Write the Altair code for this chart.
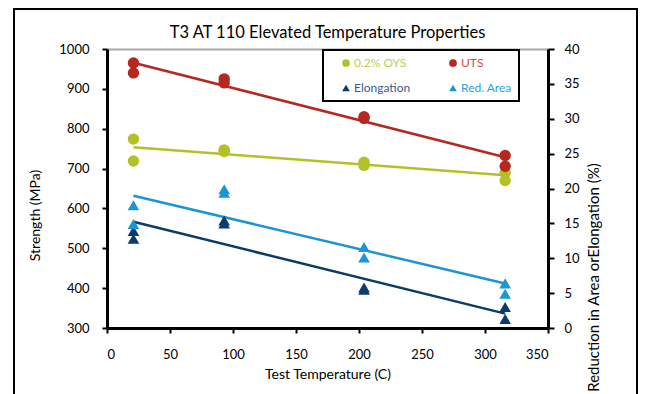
import altair as alt
import pandas as pd

# ---- data ----
temps = [21, 21, 93, 93, 204, 204, 316, 316]
oys = [774, 719, 747, 743, 716, 708, 690, 670]
uts = [965, 940, 925, 915, 830, 826, 733, 706]
elongation = [13.9, 12.8, 15.4, 15.0, 5.8, 5.5, 3.0, 1.3]
red_area = [17.6, 14.9, 19.9, 19.4, 11.6, 10.1, 6.4, 4.9]

series_names = ["0.2% OYS", "UTS", "Elongation", "Red. Area"]
series_colors = ["#B3C126", "#B5271F", "#0B3A6C", "#1A96D4"]
label_colors = ["#C3CC4E", "#D2493F", "#3A5A8A", "#2BA3DC"]
series_shapes = ["circle", "circle", "triangle-up", "triangle-up"]

x_ticks = [0, 50, 100, 150, 200, 250, 300, 350]
left_ticks = [300, 400, 500, 600, 700, 800, 900, 1000]
right_ticks = [0, 5, 10, 15, 20, 25, 30, 35, 40]

strength = pd.DataFrame({
    "temp": temps * 2,
    "value": oys + uts,
    "series": ["0.2% OYS"] * len(temps) + ["UTS"] * len(temps),
})
percent = pd.DataFrame({
    "temp": temps * 2,
    "value": elongation + red_area,
    "series": ["Elongation"] * len(temps) + ["Red. Area"] * len(temps),
})

FONT = "Lato"

color_scale = alt.Scale(domain=series_names, range=series_colors)
shape_scale = alt.Scale(domain=series_names, range=series_shapes)

label_color_expr = " : ".join(
    [f"datum.label == '{n}' ? '{c}'" for n, c in zip(series_names, label_colors)]
) + " : 'black'"

NBSP = "\u00a0" * 8

legend = alt.Legend(
    title=None,
    orient="none",
    legendX=216,
    legendY=1,
    columns=2,
    direction="horizontal",
    strokeColor="black",
    fillColor="white",
    padding=7,
    columnPadding=26,
    rowPadding=13,
    symbolSize=60,
    symbolOffset=10,
    labelFont=FONT,
    labelFontSize=12,
    labelOffset=2,
    labelExpr="(datum.label == 'UTS' || datum.label == 'Red. Area') ? datum.label + '" + NBSP + "' : datum.label",
    labelColor={"expr": label_color_expr},
)

x_enc = alt.X(
    "temp:Q",
    scale=alt.Scale(domain=[0, 350], nice=False),
    axis=alt.Axis(
        values=x_ticks,
        title="Test Temperature (C)",
        labelPadding=15,
        titlePadding=6,
        grid=False,
    ),
)

y_left = alt.Y(
    "value:Q",
    scale=alt.Scale(domain=[300, 1000], nice=False, zero=False),
    axis=alt.Axis(
        orient="left",
        values=left_ticks,
        format="d",
        title="Strength (MPa)",
        labelPadding=13,
        grid=True,
        gridColor="#A6A6A6",
        gridWidth=2,
        gridOpacity={"condition": {"test": "datum.value == 1000", "value": 1}, "value": 0},
        titleX=-72,
        titleY=166,
        titleAlign="center",
        titleBaseline="middle",
    ),
)

y_right = alt.Y(
    "value:Q",
    scale=alt.Scale(domain=[0, 40], nice=False),
    axis=alt.Axis(
        orient="right",
        values=right_ticks,
        title="Reduction in Area orElongation (%)",
        labelPadding=10,
        tickSize=6,
        grid=False,
        titleAngle=270,
        titleX=45,
        titleY=228,
        titleAlign="center",
        titleBaseline="middle",
        titleFontSize=15,
    ),
)


def trend_lines(df, y_enc, names):
    layers = []
    for name in names:
        col = series_colors[series_names.index(name)]
        layers.append(
            alt.Chart(df).transform_filter(alt.datum.series == name)
            .transform_regression("temp", "value")
            .mark_line(strokeWidth=2.5, color=col)
            .encode(x=x_enc, y=y_enc)
        )
    return layers


left_points = alt.Chart(strength).mark_point(filled=True, opacity=1, size=130).encode(
    x=x_enc, y=y_left,
    color=alt.Color("series:N", scale=color_scale, legend=legend),
    shape=alt.Shape("series:N", scale=shape_scale, legend=legend),
)
right_points = alt.Chart(percent).mark_point(filled=True, opacity=1, size=135).encode(
    x=x_enc, y=y_right,
    color=alt.Color("series:N", scale=color_scale, legend=legend),
    shape=alt.Shape("series:N", scale=shape_scale, legend=legend),
)

# outer chart-area frame (decoration)
frame = alt.Chart(pd.DataFrame({"f": [0]})).mark_rect(
    fill="white", fillOpacity=0, stroke="black", strokeWidth=2
).encode(
    x=alt.value(-93), x2=alt.value(530), y=alt.value(-40), y2=alt.value(420)
)

left = alt.layer(*trend_lines(strength, y_left, ["0.2% OYS", "UTS"]), left_points)
right = alt.layer(*trend_lines(percent, y_right, ["Elongation", "Red. Area"]), right_points)

chart = alt.layer(frame, left, right).resolve_scale(
    y="independent"
).properties(
    width=441,
    height=279,
    autosize=alt.AutoSizeParams(type="none"),
    padding={"left": 99, "top": 41, "right": 92, "bottom": 66},
    title=alt.TitleParams(
        "T3 AT 110 Elevated Temperature Properties",
        font=FONT, fontSize=16.5, fontWeight="normal", color="black",
        anchor="middle", offset=0, dy=33,
    ),
).configure_view(
    stroke=None
).configure_legend(
    strokeWidth=2
).configure_axis(
    labelFont=FONT,
    labelFontSize=13,
    labelColor="black",
    titleFont=FONT,
    titleFontSize=14,
    titleFontWeight="normal",
    titleColor="black",
    domainColor="black",
    domainWidth=3,
    tickColor="black",
    tickWidth=2,
    tickSize=5,
)

chart.save("out.html", embed_options={"renderer": "svg", "actions": False})
